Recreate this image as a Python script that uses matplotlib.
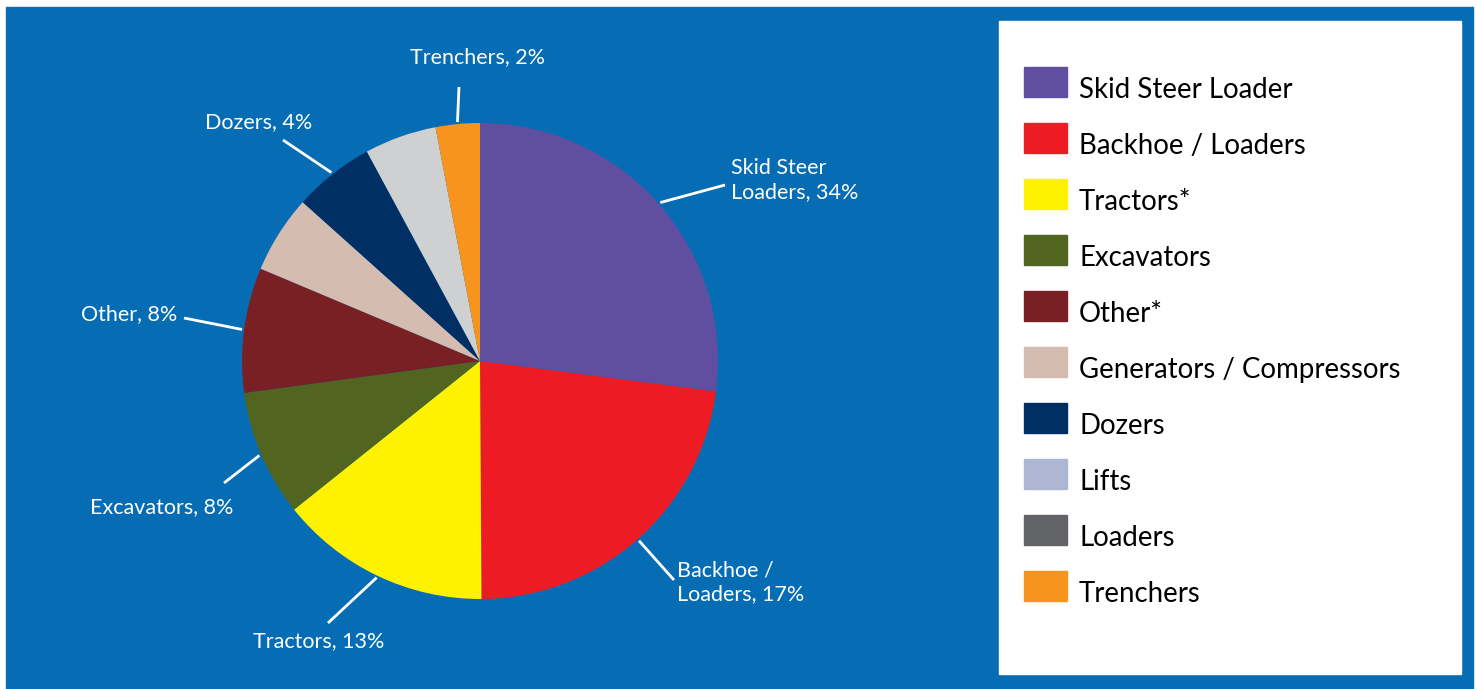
import numpy as np
import matplotlib
matplotlib.use("Agg")
import matplotlib.pyplot as plt
from matplotlib.patches import Rectangle

W, H = 1477, 689
plt.rcParams['font.family'] = ['Lato', 'DejaVu Sans']

# wedge shares as drawn (percent of circle), clockwise from 12 o'clock
slices = ["Skid Steer Loader", "Backhoe / Loaders", "Tractors*", "Excavators", "Other*",
          "Generators / Compressors", "Dozers", "Lifts", "Trenchers"]
shares = [27.1, 22.9, 14.4, 8.6, 8.5, 5.3, 5.5, 4.9, 3.0]
slice_colors = ["#604fa0", "#ed1c24", "#fff200", "#516520", "#782023",
                "#d5bcb1", "#002f63", "#cfd0d2", "#f7941d"]

# labels printed on the chart (index of wedge, text)
pie_labels = [(0, "Skid Steer\nLoaders, 34%"), (1, "Backhoe /\nLoaders, 17%"),
              (2, "Tractors, 13%"), (3, "Excavators, 8%"), (4, "Other, 8%"),
              (6, "Dozers, 4%"), (8, "Trenchers, 2%")]

legend_names = ["Skid Steer Loader", "Backhoe / Loaders", "Tractors*", "Excavators", "Other*",
                "Generators / Compressors", "Dozers", "Lifts", "Loaders", "Trenchers"]
legend_colors = ["#604fa0", "#ed1c24", "#fff200", "#516520", "#782023",
                 "#d5bcb1", "#002f63", "#adb7d3", "#626366", "#f7941d"]

# layout (pixel coords, y from top): line outer end, text anchor, alignment
label_layout = {
    0: ((725, 185), (731, 180), 'left', 'center'),
    1: ((674, 580), (677, 582), 'left', 'center'),
    2: ((328, 623), (319, 641), 'center', 'center'),
    3: ((224, 483), (162, 507), 'center', 'center'),
    4: ((184, 318), (177, 314), 'right', 'center'),
    6: ((283, 140), (259, 122), 'center', 'center'),
    8: ((459, 87), (478, 57), 'center', 'center'),
}

fig = plt.figure(figsize=(W / 100, H / 100), dpi=100, facecolor="white")
ax = fig.add_axes([0, 0, 1, 1])

def fy(y):
    return H - y

ax.add_patch(Rectangle((6, 0), 1467, H - 7, color="#066db5", zorder=0))
ax.add_patch(Rectangle((999, fy(674)), 462, 653, color="white", zorder=1))

cx, cy, r = 480, 361, 238
wedges, _ = ax.pie(shares, colors=slice_colors, startangle=90, counterclock=False,
                   center=(cx, fy(cy)), radius=r, frame=True,
                   wedgeprops=dict(linewidth=0))
ax.set_xlim(0, W)
ax.set_ylim(0, H)
ax.set_aspect('equal')
ax.axis('off')

for idx, txt in pie_labels:
    w = wedges[idx]
    mid = np.deg2rad((w.theta1 + w.theta2) / 2)
    x0 = cx + (r + 2) * np.cos(mid)
    y0 = fy(cy) + (r + 2) * np.sin(mid)
    (lx, ly), (tx, ty), ha, va = label_layout[idx]
    ax.plot([x0, lx], [y0, fy(ly)], color="white", lw=2, solid_capstyle='butt', zorder=3)
    ax.text(tx, fy(ty), txt, color="white", fontsize=15.5, ha=ha, va=va,
            linespacing=1.2, zorder=4)

for i, (name, col) in enumerate(zip(legend_names, legend_colors)):
    top = 67 + 56 * i
    ax.add_patch(Rectangle((1024, fy(top + 30)), 43, 30, color=col, zorder=2))
    ax.text(1079, fy(top + 31), name, color="black", fontsize=19.9,
            ha='left', va='baseline', zorder=3)

fig.savefig("out.png", dpi=100, facecolor="white")
